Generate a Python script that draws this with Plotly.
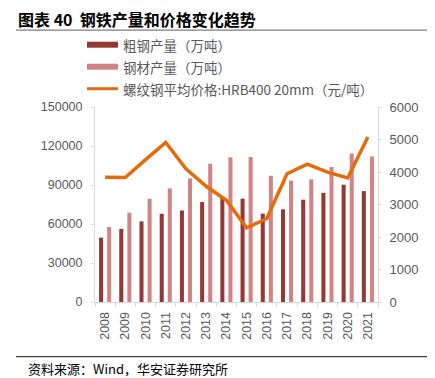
import plotly.graph_objects as go

years = ["2008", "2009", "2010", "2011", "2012", "2013", "2014",
         "2015", "2016", "2017", "2018", "2019", "2020", "2021"]
crude_steel = [49500, 56300, 62000, 67900, 70400, 76900, 81200,
               79500, 68000, 71300, 78700, 84000, 90200, 85300]
steel_products = [57700, 68700, 79400, 87400, 95100, 106400, 111300,
                  111600, 97100, 93400, 94400, 103800, 114200, 112000]
rebar_price = [3835, 3830, 4380, 4910, 4100, 3560, 3130,
               2280, 2570, 3945, 4240, 3995, 3815, 5075]

name_crude = "粗钢产量（万吨）"
name_prod = "钢材产量（万吨）"
name_price = "螺纹钢平均价格:HRB400 20mm（元/吨）"
title_text = "<b>图表 40  钢铁产量和价格变化趋势</b>"
source_text = "资料来源：Wind，华安证券研究所"

C_DARK = "#963836"
C_LIGHT = "#D38383"
C_ORANGE = "#E46C0A"
GRAY = "#595959"
AXIS = "#D9D9D9"

# page body has an 8px default margin; compensate
OFF = 8
W, H = 435 - OFF, 378 - OFF
L, R, T, B = 95 - OFF, 378 - OFF, 107.3 - OFF, 302.3 - OFF
FONT = "Liberation Sans, Arial, Noto Sans CJK SC, sans-serif"
CJK = "Noto Sans CJK SC, Liberation Sans, sans-serif"


def px(x):
    return (x - OFF - L) / (R - L)


def py(y):
    return (B - (y - OFF)) / (B - T)


fig = go.Figure()
fig.add_trace(go.Bar(x=years, y=crude_steel, name=name_crude,
                     marker=dict(color=C_DARK, line=dict(width=0)),
                     showlegend=False))
fig.add_trace(go.Bar(x=years, y=steel_products, name=name_prod,
                     marker=dict(color=C_LIGHT, line=dict(width=0)),
                     showlegend=False))
fig.add_trace(go.Scatter(x=years, y=rebar_price, name=name_price,
                         yaxis="y2", mode="lines",
                         line=dict(color=C_ORANGE, width=3.5),
                         showlegend=False))

shapes = []
annotations = []

# title + rules
annotations.append(dict(text=title_text, xref="paper", yref="paper",
                        x=px(16), y=py(19), xanchor="left", yanchor="middle",
                        showarrow=False,
                        font=dict(family=CJK, size=16, color="#000000")))
shapes.append(dict(type="line", xref="paper", yref="paper",
                   x0=px(16), x1=px(435), y0=py(30.5), y1=py(30.5),
                   line=dict(color="#7F7F7F", width=1.2)))
shapes.append(dict(type="line", xref="paper", yref="paper",
                   x0=px(16), x1=px(435), y0=py(357), y1=py(357),
                   line=dict(color="#404040", width=1.2)))
annotations.append(dict(text=source_text, xref="paper", yref="paper",
                        x=px(26), y=py(369), xanchor="left", yanchor="middle",
                        showarrow=False,
                        font=dict(family=CJK, size=13, color="#000000")))

# legend (manual)
legend_rows = [(name_crude, C_DARK, 45, "bar"),
               (name_prod, C_LIGHT, 67, "bar"),
               (name_price, C_ORANGE, 89, "line")]
for name, col, yy, kind in legend_rows:
    if kind == "bar":
        shapes.append(dict(type="rect", xref="paper", yref="paper",
                           x0=px(87), x1=px(118), y0=py(yy - 3), y1=py(yy + 3),
                           fillcolor=col, line=dict(width=0)))
    else:
        shapes.append(dict(type="line", xref="paper", yref="paper",
                           x0=px(87), x1=px(118), y0=py(yy), y1=py(yy),
                           line=dict(color=col, width=3)))
    annotations.append(dict(text=name, xref="paper", yref="paper",
                            x=px(121), y=py(yy), xanchor="left", yanchor="middle",
                            showarrow=False,
                            font=dict(family=CJK, size=13.5, color=GRAY)))

fig.update_layout(
    width=W, height=H,
    margin=dict(l=L, r=W - R, t=T, b=H - B, pad=0),
    paper_bgcolor="white", plot_bgcolor="white",
    barmode="group", bargap=0.2, bargroupgap=0.5,
    showlegend=False,
    shapes=shapes, annotations=annotations,
    font=dict(family=FONT, color=GRAY),
    xaxis=dict(type="category", tickangle=-90, showgrid=False,
               showline=True, linecolor=AXIS, linewidth=1,
               ticks="outside", tickson="boundaries", ticklen=4,
               tickcolor=AXIS, ticklabelstandoff=4,
               tickfont=dict(family=FONT, size=12.5, color=GRAY)),
    yaxis=dict(range=[0, 150000], dtick=30000, tickformat="d",
               showgrid=False,
               zeroline=False, showline=True, linecolor=AXIS, linewidth=1,
               ticks="outside", ticklen=3, tickcolor=AXIS,
               ticklabelstandoff=6,
               tickfont=dict(family=FONT, size=12.5, color=GRAY)),
    yaxis2=dict(range=[0, 6000], dtick=1000, tickformat="d",
                overlaying="y", side="right",
                showgrid=False, zeroline=False, showline=True,
                linecolor=AXIS, linewidth=1, ticks="outside", ticklen=3,
                tickcolor=AXIS, ticklabelstandoff=5,
                tickfont=dict(family=FONT, size=13, color=GRAY)),
)

fig.write_html("out.html")
